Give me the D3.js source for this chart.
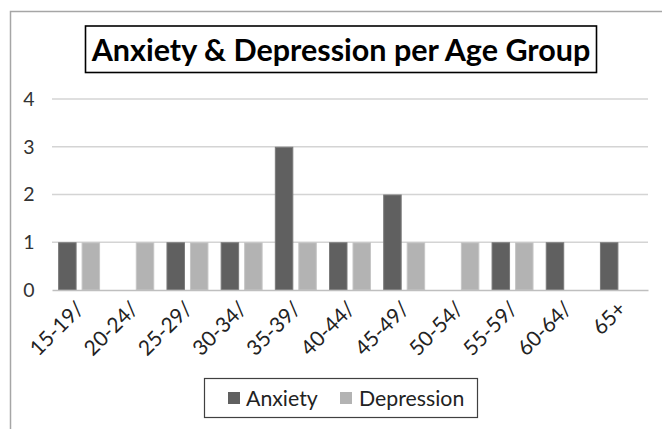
<!DOCTYPE html>
<html>
<head>
<meta charset="utf-8">
<script src="https://cdn.jsdelivr.net/npm/d3@7"></script>
<style>
  html, body { margin: 0; padding: 0; background: #fff; }
  svg { display: block; }
  text { font-family: Lato, "Open Sans", sans-serif; }
</style>
</head>
<body>
<svg id="chart" width="662" height="429"></svg>
<script>
// Age groups and counts per condition
const categories = ["15-19/", "20-24/", "25-29/", "30-34/", "35-39/", "40-44/", "45-49/", "50-54/", "55-59/", "60-64/", "65+"];
const anxiety    = [1, 0, 1, 1, 3, 1, 2, 0, 1, 1, 1];
const depression = [1, 1, 1, 1, 1, 1, 1, 1, 1, 0, 0];
const seriesNames = ["Anxiety", "Depression"];
const yTicks = [0, 1, 2, 3, 4];

const colors = { Anxiety: "#606060", Depression: "#b3b3b3" };
const strokes = { Anxiety: "#7a7a7a", Depression: "#c6c6c6" };

const svg = d3.select("#chart");

// outer chart frame
svg.append("rect")
  .attr("x", 10.5).attr("y", 11.5)
  .attr("width", 700).attr("height", 500)
  .attr("fill", "none")
  .attr("stroke", "#a6a6a6")
  .attr("stroke-width", 1.5);

// title with its border
const titleG = svg.append("g");
titleG.append("rect")
  .attr("x", 85.5).attr("y", 26)
  .attr("width", 511).attr("height", 46.5)
  .attr("fill", "#fff")
  .attr("stroke", "#000")
  .attr("stroke-width", 1.6);
titleG.append("text")
  .attr("x", 341).attr("y", 60.5)
  .attr("text-anchor", "middle")
  .attr("font-weight", "bold")
  .attr("font-size", 30.5)
  .attr("fill", "#000")
  .text("Anxiety & Depression per Age Group");

const plot = { left: 52, right: 648, top: 99, bottom: 290 };

const x = d3.scaleBand()
  .domain(categories)
  .range([plot.left, plot.right])
  .paddingInner(0).paddingOuter(0);

const xSub = d3.scaleBand()
  .domain(seriesNames)
  .range([0, x.bandwidth()])
  .paddingInner(0.213)
  .paddingOuter(0.26);

const y = d3.scaleLinear()
  .domain([0, 4])
  .range([plot.bottom, plot.top]);

// horizontal gridlines
svg.append("g")
  .selectAll("line")
  .data(yTicks.filter(d => d > 0))
  .join("line")
  .attr("x1", plot.left).attr("x2", plot.right)
  .attr("y1", d => y(d)).attr("y2", d => y(d))
  .attr("stroke", "#d4d4d4")
  .attr("stroke-width", 1.5);

// y axis labels
const yAxis = d3.axisLeft(y).tickValues(yTicks).tickSize(0).tickPadding(0).tickFormat(d3.format("d"));
const yg = svg.append("g")
  .attr("transform", `translate(34.5,0)`)
  .call(yAxis);
yg.select(".domain").remove();
yg.selectAll("text")
  .attr("font-family", "Lato, 'Open Sans', sans-serif")
  .attr("font-size", 19.5)
  .attr("fill", "#333");

// bars
const rows = categories.map((c, i) => ({ cat: c, Anxiety: anxiety[i], Depression: depression[i] }));
const groups = svg.append("g")
  .selectAll("g")
  .data(rows)
  .join("g")
  .attr("transform", d => `translate(${x(d.cat)},0)`);

groups.selectAll("rect")
  .data(d => seriesNames.map(s => ({ key: s, value: d[s] })).filter(v => v.value > 0))
  .join("rect")
  .attr("x", d => xSub(d.key) + 0.5)
  .attr("width", xSub.bandwidth() - 1)
  .attr("y", d => y(d.value) + 0.5)
  .attr("height", d => y(0) - y(d.value) - 0.5)
  .attr("fill", d => colors[d.key])
  .attr("stroke", d => strokes[d.key])
  .attr("stroke-width", 1);

// category axis
const xAxis = d3.axisBottom(x).tickSize(0).tickPadding(0);
const xg = svg.append("g")
  .attr("transform", `translate(0,${plot.bottom})`)
  .call(xAxis);
xg.select(".domain")
  .attr("stroke", "#bfbfbf")
  .attr("stroke-width", 1.5);
xg.selectAll(".tick text")
  .attr("font-family", "Lato, 'Open Sans', sans-serif")
  .attr("font-size", 21)
  .attr("fill", "#222")
  .attr("text-anchor", "end")
  .attr("dy", "0.35em")
  .attr("y", 0)
  .attr("transform", "translate(1,15) rotate(-45)");

// legend
const legend = svg.append("g");
legend.append("rect")
  .attr("x", 204.5).attr("y", 378.5)
  .attr("width", 273).attr("height", 39)
  .attr("fill", "#fff")
  .attr("stroke", "#404040")
  .attr("stroke-width", 1.2);

const legendItems = [
  { key: "Anxiety", sx: 228, tx: 246 },
  { key: "Depression", sx: 340, tx: 359 }
];
legendItems.forEach(it => {
  legend.append("rect")
    .attr("x", it.sx).attr("y", 392)
    .attr("width", 12).attr("height", 12)
    .attr("fill", colors[it.key]);
  legend.append("text")
    .attr("x", it.tx).attr("y", 405.5)
    .attr("font-size", 21.3)
    .attr("fill", "#222")
    .text(it.key);
});
</script>
</body>
</html>
